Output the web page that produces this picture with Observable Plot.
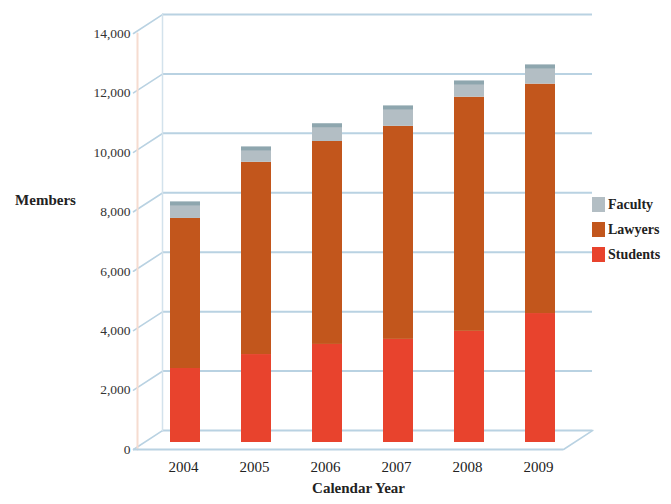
<!DOCTYPE html>
<html>
<head>
<meta charset="utf-8">
<script src="https://cdn.jsdelivr.net/npm/d3@7"></script>
<script src="https://cdn.jsdelivr.net/npm/@observablehq/plot@0.6"></script>
<style>
  html, body { margin: 0; padding: 0; background: #fff; }
  #wrap { position: relative; width: 671px; height: 504px; font-family: "Liberation Serif", "DejaVu Serif", serif; }
  #legend { position: absolute; left: 592px; top: 192px; }
  .item { display: flex; align-items: center; height: 25px; font-weight: bold; font-size: 14px; color: #222; }
  .sw { width: 13px; height: 15px; margin-right: 3px; }
</style>
</head>
<body>
<div id="wrap"></div>
<script>
const years = ["2004", "2005", "2006", "2007", "2008", "2009"];
const students = [2490, 2960, 3300, 3470, 3740, 4340];
const lawyers  = [5050, 6470, 6830, 7170, 7880, 7720];
const faculty  = [440, 400, 480, 570, 430, 530];
const seriesNames = ["Students", "Lawyers", "Faculty"];
const seriesColors = ["#e8432d", "#c2561c", "#b3bec4"];
const yTicks = [0, 2000, 4000, 6000, 8000, 10000, 12000, 14000];
const legendOrder = ["Faculty", "Lawyers", "Students"];

const seriesValues = {Students: students, Lawyers: lawyers, Faculty: faculty};
const data = [];
for (const s of seriesNames) years.forEach((y, i) => data.push({year: y, series: s, value: seriesValues[s][i]}));
const totals = years.map((y, i) => ({year: y, total: students[i] + lawyers[i] + faculty[i]}));

const grid = "#b9d2e2";
const font = "Liberation Serif, DejaVu Serif, serif";
const fmt = d3.format(",");

const chart = Plot.plot({
  width: 671,
  height: 504,
  marginLeft: 133,
  marginRight: 108,
  marginTop: 33,
  marginBottom: 55,
  style: {fontFamily: font, background: "transparent"},
  x: {domain: years, range: [133, 592], paddingInner: 0.58, paddingOuter: 0.504, axis: null},
  y: {domain: [0, 14000], axis: null},
  color: {domain: seriesNames, range: seriesColors},
  marks: [
    // back wall gridlines
    Plot.ruleY(yTicks, {dx: 29, dy: -19, stroke: grid, strokeWidth: 2}),
    // side-wall diagonals from the front axis to the back wall
    Plot.vector(yTicks, {y: d => d, frameAnchor: "left", length: 35, rotate: 57, anchor: "start", r: 0, stroke: grid, strokeWidth: 1.6}),
    // back-left vertical edge
    Plot.vector([0], {y: d => d, frameAnchor: "left", dx: 29, dy: -19, length: 416, rotate: 0, anchor: "start", r: 0, stroke: "#d3e2ec", strokeWidth: 1.5}),
    // front-left vertical edge
    Plot.vector([0], {y: d => d, frameAnchor: "left", dx: 4, length: 416, rotate: 0, anchor: "start", r: 0, stroke: "#f6dcd0", strokeWidth: 2}),
    // floor front edge and right diagonal
    Plot.ruleY([0], {stroke: grid, strokeWidth: 2}),
    Plot.vector([0], {y: d => d, frameAnchor: "right", length: 35, rotate: 57, anchor: "start", r: 0, stroke: grid, strokeWidth: 1.6}),
    // stacked bars
    Plot.barY(data, Plot.stackY({x: "year", y: "value", fill: "series", order: seriesNames, dy: -7})),
    // darker top face of each bar
    Plot.tickY(totals, {x: "year", y: "total", stroke: "#8ea6ae", strokeWidth: 4, dy: -9}),
    // y tick labels
    Plot.text(yTicks, {y: d => d, text: d => fmt(d), frameAnchor: "left", textAnchor: "end", dx: -3, fontSize: 13.5, fill: "#333"}),
    // x tick labels
    Plot.axisX({tickSize: 0, tickPadding: 12, label: null, fontSize: 15, fill: "#222", dx: -2}),
    Plot.text(["Members"], {frameAnchor: "left", textAnchor: "middle", dx: -88, dy: -41, fontSize: 15, fontWeight: "bold", fill: "#222"}),
    Plot.text(["Calendar Year"], {frameAnchor: "bottom", textAnchor: "middle", dx: 10, dy: 43, fontSize: 15, fontWeight: "bold", fill: "#222"})
  ]
});

const wrap = document.getElementById("wrap");
wrap.appendChild(chart);

const legend = document.createElement("div");
legend.id = "legend";
for (const name of legendOrder) {
  const item = document.createElement("div");
  item.className = "item";
  const sw = document.createElement("span");
  sw.className = "sw";
  sw.style.background = seriesColors[seriesNames.indexOf(name)];
  const label = document.createElement("span");
  label.textContent = name;
  item.appendChild(sw);
  item.appendChild(label);
  legend.appendChild(item);
}
wrap.appendChild(legend);
</script>
</body>
</html>
